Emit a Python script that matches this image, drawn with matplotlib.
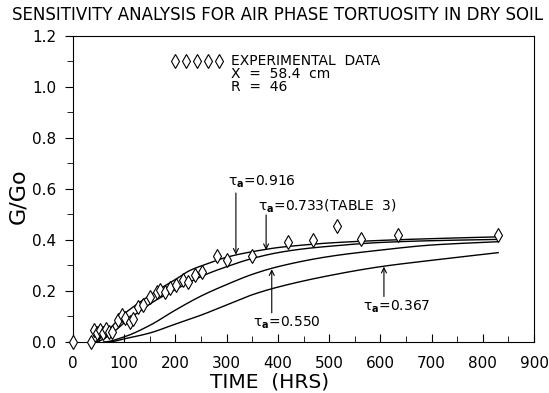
"""Sensitivity analysis for air phase tortuosity in dry soil (G/Go vs time)."""
import numpy as np
import matplotlib.pyplot as plt
from matplotlib.ticker import MultipleLocator

plt.rcParams['font.family'] = ['DejaVu Sans']
plt.rcParams['mathtext.default'] = 'regular'

# experimental data (diamonds)
exp_t = [0, 35, 40, 46, 53, 59, 65, 70, 76, 88, 95, 101, 111, 118, 127, 137,
         150, 163, 170, 180, 189, 202, 215, 225, 238, 251, 281, 300, 349,
         420, 469, 516, 562, 635, 829]
exp_g = [0.0, 0.0, 0.045, 0.035, 0.045, 0.035, 0.05, 0.04, 0.04, 0.085, 0.105,
         0.095, 0.08, 0.09, 0.138, 0.145, 0.178, 0.197, 0.204, 0.197, 0.21,
         0.223, 0.243, 0.236, 0.263, 0.275, 0.335, 0.32, 0.335, 0.39, 0.40,
         0.455, 0.405, 0.42, 0.42]

# model curves for different tortuosities
t_916 = [40, 60, 80, 100, 130, 163, 200, 228, 260, 293, 320, 359, 400, 450, 500, 600, 700, 830]
g_916 = [0.0, 0.025, 0.07, 0.11, 0.155, 0.2, 0.245, 0.28, 0.305, 0.328, 0.342,
         0.357, 0.37, 0.38, 0.388, 0.398, 0.405, 0.412]
t_733 = [45, 60, 80, 100, 130, 163, 200, 228, 260, 300, 346, 400, 450, 500, 600, 700, 830]
g_733 = [0.0, 0.012, 0.04, 0.075, 0.12, 0.165, 0.205, 0.235, 0.265, 0.295,
         0.325, 0.35, 0.365, 0.375, 0.39, 0.397, 0.402]
t_550 = [60, 100, 150, 200, 250, 300, 350, 400, 500, 600, 700, 830]
g_550 = [0.0, 0.02, 0.065, 0.125, 0.18, 0.225, 0.265, 0.295, 0.335, 0.36, 0.38, 0.393]
t_367 = [70, 100, 150, 200, 250, 300, 350, 400, 500, 600, 700, 830]
g_367 = [0.0, 0.012, 0.035, 0.07, 0.105, 0.145, 0.185, 0.215, 0.26, 0.295, 0.32, 0.35]


def pchip(x, y, n=400):
    """单调三次插值（Fritsch-Carlson），让读出的点连成光滑曲线"""
    x = np.asarray(x, float)
    y = np.asarray(y, float)
    h = np.diff(x)
    d = np.diff(y) / h
    m = np.zeros_like(y)
    for k in range(1, len(x) - 1):
        if d[k - 1] * d[k] > 0:
            w1 = 2 * h[k] + h[k - 1]
            w2 = h[k] + 2 * h[k - 1]
            m[k] = (w1 + w2) / (w1 / d[k - 1] + w2 / d[k])
    m[0] = 0.0
    m[-1] = d[-1]
    xs = np.linspace(x[0], x[-1], n)
    idx = np.clip(np.searchsorted(x, xs) - 1, 0, len(h) - 1)
    t = (xs - x[idx]) / h[idx]
    h00 = 2 * t**3 - 3 * t**2 + 1
    h10 = t**3 - 2 * t**2 + t
    h01 = -2 * t**3 + 3 * t**2
    h11 = t**3 - t**2
    ys = h00 * y[idx] + h10 * h[idx] * m[idx] + h01 * y[idx + 1] + h11 * h[idx] * m[idx + 1]
    return xs, ys


fig = plt.figure(figsize=(5.49, 3.93), dpi=100)
ax = fig.add_axes([0.133, 0.13, 0.8397, 0.7786])

for x, y in [(t_916, g_916), (t_733, g_733), (t_550, g_550), (t_367, g_367)]:
    xs, ys = pchip(x, y)
    ax.plot(xs, ys, color='black', linewidth=1.0)

ax.plot(exp_t, exp_g, linestyle='none', marker='d', markersize=7.5,
        markerfacecolor='white', markeredgecolor='black', markeredgewidth=0.8,
        clip_on=False, zorder=3)

ax.set_xlim(0, 900)
ax.set_ylim(0, 1.2)
ax.xaxis.set_major_locator(MultipleLocator(100))
ax.xaxis.set_minor_locator(MultipleLocator(50))
ax.yaxis.set_major_locator(MultipleLocator(0.2))
ax.yaxis.set_minor_locator(MultipleLocator(0.1))
ax.yaxis.set_major_formatter(plt.FuncFormatter(lambda v, p: f'{v:.1f}'))
ax.tick_params(axis='x', which='both', direction='in', top=False, labelsize=11, pad=10)
ax.tick_params(axis='x', which='major', length=6)
ax.tick_params(axis='x', which='minor', length=4)
ax.tick_params(axis='y', which='both', direction='out', right=False, labelsize=11, pad=6)
ax.tick_params(axis='y', which='major', length=6)
ax.tick_params(axis='y', which='minor', length=4)

ax.set_xlabel('TIME  (HRS)', fontsize=14.5)
ax.xaxis.set_label_coords(0.427, -0.1)
ax.set_ylabel('G/Go', fontsize=16)
ax.yaxis.set_label_coords(-0.098, 0.477)
fig.suptitle('SENSITIVITY ANALYSIS FOR AIR PHASE TORTUOSITY IN DRY SOIL',
             fontsize=12, x=0.505, y=0.985)

# 图内说明文字
ax.plot([199, 221, 242, 264, 285], [1.103] * 5, linestyle='none', marker='d',
        markersize=7.5, markerfacecolor='white', markeredgecolor='black',
        markeredgewidth=0.8)
ax.text(308, 1.103, 'EXPERIMENTAL  DATA', fontsize=10, va='center')
ax.text(308, 1.052, 'X  =  58.4  cm', fontsize=10, va='center')
ax.text(308, 1.001, 'R  =  46', fontsize=10, va='center')

# τa 标注：竖直箭头 + 文字
arrow = dict(arrowstyle='->', color='black', linewidth=0.8,
             shrinkA=0, shrinkB=0, mutation_scale=9)
labels = [r'$\tau_{\mathbf{a}}$=0.916', r'$\tau_{\mathbf{a}}$=0.733(TABLE  3)',
          r'$\tau_{\mathbf{a}}$=0.550', r'$\tau_{\mathbf{a}}$=0.367']
text_xy = [(303, 0.627), (361, 0.53), (352, 0.074), (566, 0.138)]
arrow_x = [318, 377, 388, 607]
arrow_from = [0.584, 0.498, 0.114, 0.178]
arrow_to = [0.342, 0.36, 0.285, 0.295]
for lab, (tx, ty), axx, y0, y1 in zip(labels, text_xy, arrow_x, arrow_from, arrow_to):
    ax.text(tx, ty, lab, fontsize=10, ha='left', va='center')
    ax.annotate('', xy=(axx, y1), xytext=(axx, y0), arrowprops=arrow)

plt.savefig('out.png', dpi=100)
plt.close()
